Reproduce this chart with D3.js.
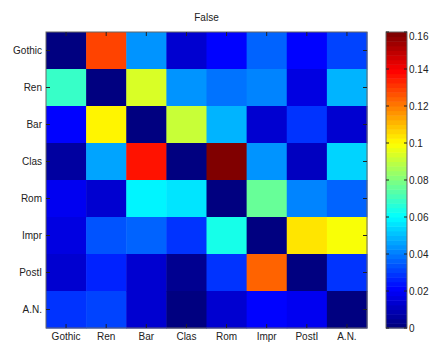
<!DOCTYPE html>
<html><head><meta charset="utf-8">
<script src="https://cdn.jsdelivr.net/npm/d3@7"></script>
<style>body{margin:0;background:#fff;overflow:hidden}svg{display:block}text{font-family:"Liberation Sans",Arial,sans-serif;font-size:10px;fill:#222}</style>
</head><body>
<script>
const categories = ["Gothic","Ren","Bar","Clas","Rom","Impr","PostI","A.N."];
const title = "False";
const values = [
  [0.000,0.128,0.0435,0.0145,0.020,0.036,0.021,0.032],
  [0.068,0.000,0.0945,0.0435,0.0387,0.042,0.016,0.048],
  [0.021,0.100,0.000,0.0905,0.0498,0.013,0.028,0.0145],
  [0.0067,0.046,0.135,0.001,0.160,0.0435,0.011,0.053],
  [0.0175,0.013,0.0575,0.055,0.000,0.0757,0.042,0.036],
  [0.015,0.034,0.037,0.0294,0.0648,0.000,0.103,0.0976],
  [0.013,0.025,0.0145,0.004,0.0294,0.123,0.001,0.029],
  [0.029,0.032,0.013,0.002,0.0145,0.022,0.0175,0.000]
];
const cbTicks = [0,0.02,0.04,0.06,0.08,0.1,0.12,0.14,0.16];
const vmax = 0.16;

function jet(t){
  t = Math.max(0,Math.min(1,t));
  t = Math.min(63, Math.floor(t*64))/63; // 64-level map
  const c = v=>Math.round(255*Math.max(0,Math.min(1,v)));
  return `rgb(${c(1.5-Math.abs(4*t-3))},${c(1.5-Math.abs(4*t-2))},${c(1.5-Math.abs(4*t-1))})`;
}

const W=429,H=343;
const svg=d3.select("body").append("svg").attr("width",W).attr("height",H);
const L=46,R=367,T=32,B=328;
const x=d3.scaleBand().domain(categories).range([L,R]);
const y=d3.scaleBand().domain(categories).range([T,B]);
const cells=[];
values.forEach((row,i)=>row.forEach((v,j)=>cells.push({r:categories[i],c:categories[j],v})));
svg.append("g").selectAll("rect").data(cells).join("rect")
  .attr("x",d=>x(d.c)).attr("y",d=>y(d.r))
  .attr("width",x.bandwidth()+0.5).attr("height",y.bandwidth()+0.5)
  .attr("fill",d=>jet(d.v/vmax));
svg.append("rect").attr("x",L).attr("y",T).attr("width",R-L).attr("height",B-T)
  .attr("fill","none").attr("stroke","#666").attr("stroke-width",1);
// ticks
const tl=4;
const tg=svg.append("g").attr("stroke","#222").attr("stroke-width",1);
categories.forEach(c=>{
  const cx=x(c)+x.bandwidth()/2, cy=y(c)+y.bandwidth()/2;
  tg.append("line").attr("x1",cx).attr("x2",cx).attr("y1",T).attr("y2",T+tl);
  tg.append("line").attr("x1",cx).attr("x2",cx).attr("y1",B).attr("y2",B-tl);
  tg.append("line").attr("y1",cy).attr("y2",cy).attr("x1",L).attr("x2",L+tl);
  tg.append("line").attr("y1",cy).attr("y2",cy).attr("x1",R).attr("x2",R-tl);
});
svg.append("g").selectAll("text").data(categories).join("text")
  .attr("x",d=>x(d)+x.bandwidth()/2).attr("y",B+12).attr("text-anchor","middle").text(d=>d);
svg.append("g").selectAll("text").data(categories).join("text")
  .attr("x",L-4).attr("y",d=>y(d)+y.bandwidth()/2+3.5).attr("text-anchor","end").text(d=>d);
svg.append("text").attr("x",(L+R)/2).attr("y",21).attr("text-anchor","middle").text(title);

// colorbar
const cbL=386,cbR=407;
const cy=d3.scaleLinear().domain([0,vmax]).range([B,T]);
const steps=d3.range(64);
svg.append("g").selectAll("rect").data(steps).join("rect")
  .attr("x",cbL).attr("width",cbR-cbL)
  .attr("y",i=>cy((i+1)*vmax/64)).attr("height",i=>cy(i*vmax/64)-cy((i+1)*vmax/64)+0.5)
  .attr("fill",i=>jet((i+0.5)/64));
svg.append("rect").attr("x",cbL).attr("y",T).attr("width",cbR-cbL).attr("height",B-T)
  .attr("fill","none").attr("stroke","#666");
const cg=svg.append("g").attr("stroke","#222");
cbTicks.forEach(v=>{
  cg.append("line").attr("x1",cbL).attr("x2",cbL+3).attr("y1",cy(v)).attr("y2",cy(v));
  cg.append("line").attr("x1",cbR).attr("x2",cbR-3).attr("y1",cy(v)).attr("y2",cy(v));
});
svg.append("g").selectAll("text").data(cbTicks).join("text")
  .attr("x",cbR+2).attr("y",v=>Math.min(Math.max(cy(v),36),329)+3.5).text(v=>String(v));
</script>
</body></html>
